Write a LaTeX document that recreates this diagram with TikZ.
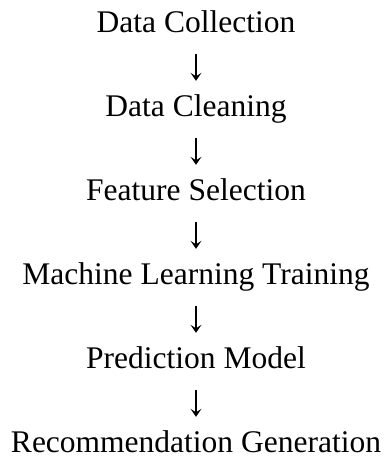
\documentclass[tikz,border=0pt]{standalone}
\usepackage{fontspec}
\setmainfont{Liberation Serif}
\usetikzlibrary{arrows.meta}
\begin{document}
\begin{tikzpicture}[x=1pt,y=1pt,
  stage/.style={anchor=base, inner sep=0pt, text height=22pt, text depth=6pt,
    font=\fontsize{31.5pt}{38pt}\selectfont},
  flow/.style={line width=1.3pt, shorten <=16pt, shorten >=13pt,
    -{Stealth[length=8pt,width=11pt,inset=3.5pt]}}]
\useasboundingbox (0,0) rectangle (387,-459);
\node[stage] (n1) at (196,-32) {Data Collection};
\node[stage] (n2) at (196,-116) {Data Cleaning};
\node[stage] (n3) at (196,-200) {Feature Selection};
\node[stage] (n4) at (196,-284) {Machine Learning Training};
\node[stage] (n5) at (196,-368) {Prediction Model};
\node[stage] (n6) at (196,-452) {Recommendation Generation};
\draw[flow] (n1) -- (n2);
\draw[flow] (n2) -- (n3);
\draw[flow] (n3) -- (n4);
\draw[flow] (n4) -- (n5);
\draw[flow] (n5) -- (n6);
\end{tikzpicture}
\end{document}
